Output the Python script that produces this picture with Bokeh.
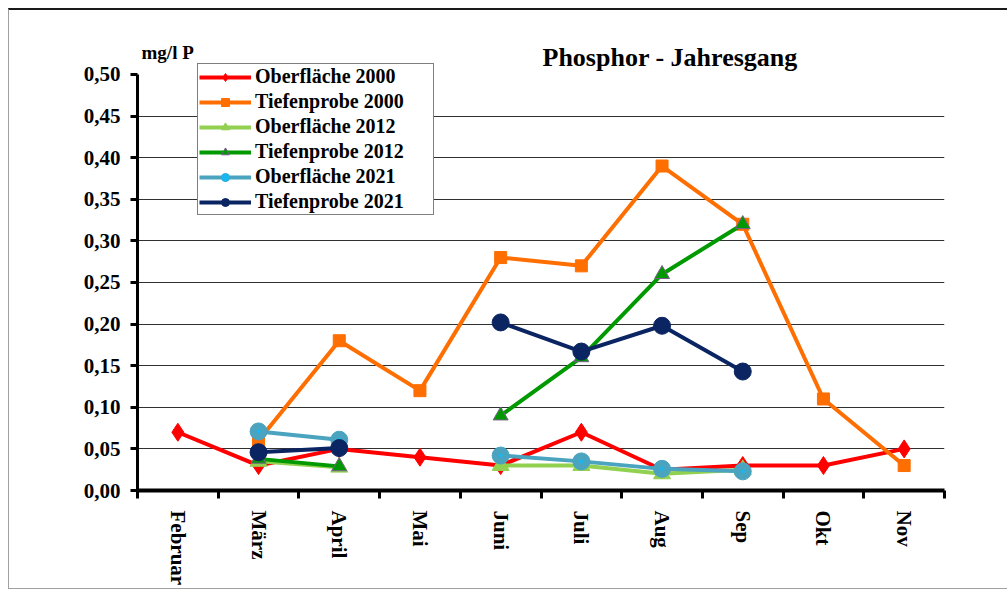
import math
from bokeh.plotting import figure
from bokeh.models import (FixedTicker, CustomJSTickFormatter, Legend, LegendItem, Label, Range1d)
from bokeh.embed import file_html
from bokeh.resources import INLINE

nan = float("nan")

months = ["Februar", "März", "April", "Mai", "Juni", "Juli", "Aug", "Sep", "Okt", "Nov"]
ober_2000 = [0.07, 0.03, 0.05, 0.04, 0.03, 0.07, 0.025, 0.03, 0.03, 0.05]
tiefe_2000 = [nan, 0.06, 0.18, 0.12, 0.28, 0.27, 0.39, 0.32, 0.11, 0.03]
ober_2012 = [nan, 0.035, 0.028, nan, 0.03, 0.03, 0.02, 0.025, nan, nan]
tiefe_2012 = [nan, 0.038, 0.029, nan, 0.09, 0.16, 0.26, 0.32, nan, nan]
ober_2021 = [nan, 0.071, 0.061, nan, 0.042, 0.035, 0.026, 0.023, nan, nan]
tiefe_2021 = [nan, 0.046, 0.051, nan, 0.202, 0.167, 0.198, 0.143, nan, nan]
y_ticks = [0.0, 0.05, 0.10, 0.15, 0.20, 0.25, 0.30, 0.35, 0.40, 0.45, 0.50]

FONT = "Liberation Serif"

p = figure(width=999, height=581, output_backend="svg", toolbar_location=None,
           x_range=Range1d(0, len(months)), y_range=Range1d(0, 0.5697),
           min_border_left=128, min_border_right=64, min_border_top=6, min_border_bottom=101)
p.styles = {"margin-left": "8px", "margin-top": "8px",
            "border-top": "2px solid #1a1a1a", "border-left": "1px solid #a0a0a0",
            "border-bottom": "1px solid #a0a0a0"}
p.outline_line_color = None
p.background_fill_color = "white"
p.border_fill_color = "white"

xs = [i + 0.5 for i in range(len(months))]

# axes
p.xaxis.ticker = FixedTicker(ticks=xs, minor_ticks=list(range(len(months) + 1)))
p.xaxis.major_label_overrides = {x: m for x, m in zip(xs, months)}
p.xaxis.major_tick_line_color = None
p.xaxis.minor_tick_line_color = "black"
p.xaxis.minor_tick_line_width = 3
p.xaxis.minor_tick_out = 8
p.xaxis.minor_tick_in = 0
p.xaxis.axis_line_width = 4
p.xaxis.axis_line_color = "black"
p.xaxis.major_label_orientation = "vertical"
p.xaxis.major_label_standoff = 12
p.xaxis.major_label_text_font = FONT
p.xaxis.major_label_text_font_style = "bold"
p.xaxis.major_label_text_font_size = "21px"
p.xaxis.major_label_text_color = "black"

p.yaxis.ticker = FixedTicker(ticks=y_ticks, minor_ticks=[])
p.yaxis.bounds = (0, 0.5)
p.yaxis.formatter = CustomJSTickFormatter(code="return tick.toFixed(2).replace('.', ',');")
p.yaxis.axis_line_width = 3
p.yaxis.axis_line_color = "black"
p.yaxis.major_tick_line_width = 3
p.yaxis.major_tick_line_color = "black"
p.yaxis.major_tick_out = 7
p.yaxis.major_tick_in = 0
p.yaxis.major_label_standoff = 10
p.yaxis.major_label_text_font = FONT
p.yaxis.major_label_text_font_style = "bold"
p.yaxis.major_label_text_font_size = "21px"
p.yaxis.major_label_text_color = "black"

p.xgrid.grid_line_color = None
p.ygrid.ticker = FixedTicker(ticks=y_ticks[1:-1])
p.ygrid.grid_line_color = "#303030"
p.ygrid.grid_line_width = 1

# series
items = []

r1 = p.line(xs, ober_2000, line_color="#FF0000", line_width=4)
m1 = p.scatter(xs, ober_2000, marker="diamond", size=18, fill_color="#FF0000", line_color="#FF0000")
items.append(LegendItem(label="Oberfläche 2000", renderers=[r1, m1]))

r2 = p.line(xs, tiefe_2000, line_color="#FF6E00", line_width=4)
m2 = p.scatter(xs, tiefe_2000, marker="square", size=12, fill_color="#FF6E00", line_color="#FF6E00")
items.append(LegendItem(label="Tiefenprobe 2000", renderers=[r2, m2]))

r3 = p.line(xs, ober_2012, line_color="#92D050", line_width=4)
m3 = p.scatter(xs, ober_2012, marker="triangle", size=17, fill_color="#92D050", line_color="#92D050")
items.append(LegendItem(label="Oberfläche 2012", renderers=[r3, m3]))

r4 = p.line(xs, tiefe_2012, line_color="#009A00", line_width=4)
m4 = p.scatter(xs, tiefe_2012, marker="triangle", size=15, fill_color="#009A00", line_color="#7A5F8E", line_width=1)
items.append(LegendItem(label="Tiefenprobe 2012", renderers=[r4, m4]))

r5 = p.line(xs, ober_2021, line_color="#4AA3BF", line_width=4)
m5 = p.scatter(xs, ober_2021, marker="circle", size=17, fill_color="#4AA3BF", line_color="#4AA3BF")
m5b = p.scatter(xs, ober_2021, marker="circle", size=4, fill_color="#19B6F0", line_color=None)
items.append(LegendItem(label="Oberfläche 2021", renderers=[r5, m5, m5b]))

r6 = p.line(xs, tiefe_2021, line_color="#0B2462", line_width=4)
m6 = p.scatter(xs, tiefe_2021, marker="circle", size=17, fill_color="#0B2462", line_color="#0B2462")
items.append(LegendItem(label="Tiefenprobe 2021", renderers=[r6, m6]))

legend = Legend(items=items, location=(60, 275), orientation="vertical")
legend.border_line_color = "black"
legend.border_line_width = 1
legend.background_fill_color = "white"
legend.background_fill_alpha = 1
legend.padding = 1
legend.spacing = 2
legend.glyph_width = 52
legend.glyph_height = 20
legend.label_height = 20
legend.label_width = 177
legend.label_standoff = 4
legend.label_text_font = FONT
legend.label_text_font_style = "bold"
legend.label_text_font_size = "20px"
legend.label_text_color = "black"
p.add_layout(legend, "center")

title = Label(x=6.6, y=0.5204, text="Phosphor - Jahresgang",
              text_font=FONT, text_font_style="bold", text_font_size="26px",
              text_align="center", text_baseline="alphabetic", text_color="black")
p.add_layout(title)

unit = Label(x=0.05, y=0.526, text="mg/l P",
             text_font=FONT, text_font_style="bold", text_font_size="19px",
             text_align="left", text_baseline="alphabetic", text_color="black")
p.add_layout(unit)

open("out.html", "w").write(file_html(p, INLINE))
